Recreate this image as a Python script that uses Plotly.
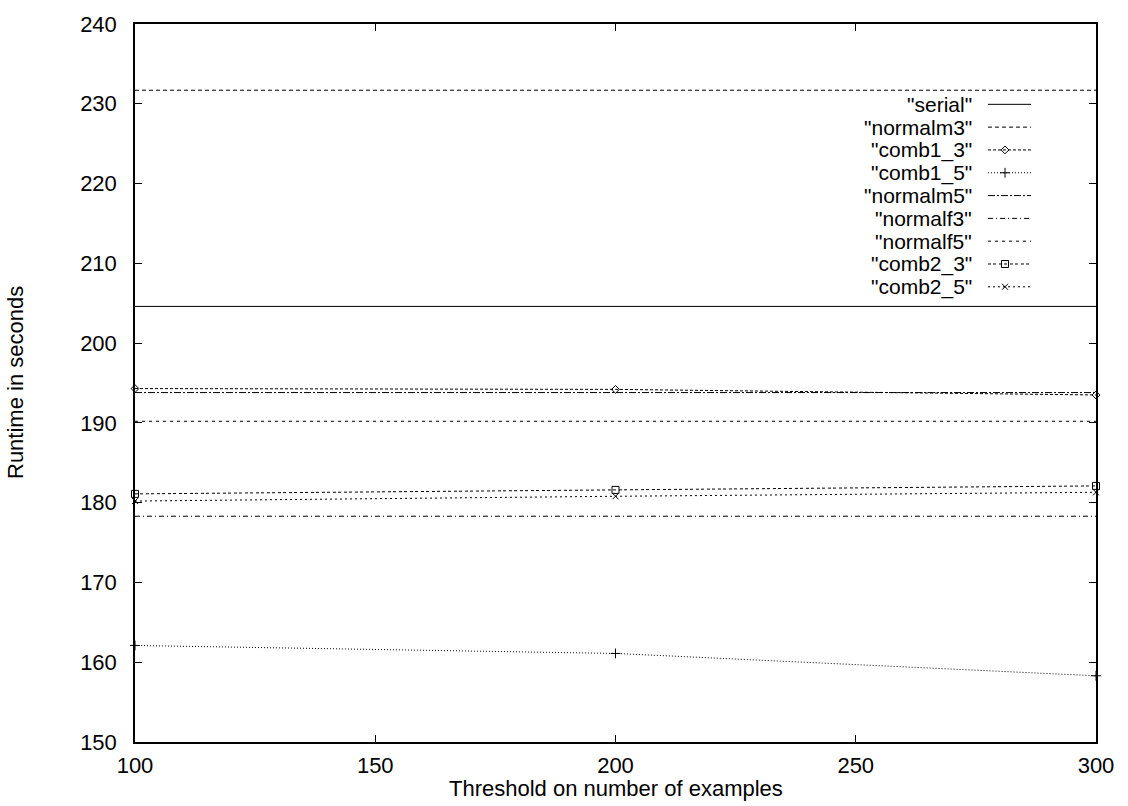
import plotly.graph_objects as go

# Threshold values (x) and runtimes in seconds for each configuration
thresholds = [100, 200, 300]

serial = [204.6, 204.6, 204.6]
normalm3 = [231.7, 231.7, 231.7]
comb1_3 = [194.3, 194.2, 193.5]
comb1_5 = [162.1, 161.1, 158.3]
normalm5 = [193.8, 193.8, 193.8]
normalf3 = [178.3, 178.3, 178.3]
normalf5 = [190.2, 190.2, 190.2]
comb2_3 = [181.1, 181.6, 182.1]
comb2_5 = [180.2, 180.8, 181.3]

series_names = ['"serial"', '"normalm3"', '"comb1_3"', '"comb1_5"', '"normalm5"',
                '"normalf3"', '"normalf5"', '"comb2_3"', '"comb2_5"']
series_values = [serial, normalm3, comb1_3, comb1_5, normalm5,
                 normalf3, normalf5, comb2_3, comb2_5]

# line style per series: (dash, marker symbol or None, marker size)
styles = [
    ("solid", None, 0),
    ("4px,3px", None, 0),
    ("3px,2px", "diamond-open", 6),
    ("1px,2px", "cross-thin-open", 7),
    ("7px,2px,2px,2px", None, 0),
    ("5px,3px,1px,3px", None, 0),
    ("3px,4px", None, 0),
    ("3px,2px,3px,3px", "square-open", 7),
    ("2px,3px", "x-thin-open", 6),
]

FONT = "Liberation Sans, Arial, Helvetica, sans-serif"
FS = 22
KEY_FS = 21

fig = go.Figure()

for name, vals, (dash, sym, msz) in zip(series_names, series_values, styles):
    fig.add_trace(go.Scatter(
        x=thresholds, y=vals, name=name,
        mode="lines+markers" if sym else "lines",
        line=dict(color="black", width=1, dash=dash),
        marker=dict(symbol=sym, size=msz, color="black",
                    line=dict(color="black", width=1)) if sym else None,
        showlegend=False, cliponaxis=False,
    ))

# Key in the upper right: label text followed by a line sample
plot_l, plot_r, plot_t, plot_b = 135, 1096, 18, 742
pw, ph = plot_r - plot_l, plot_b - plot_t

def px_x(px):
    return (px - plot_l) / pw

def px_y(py):
    return (plot_b - py) / ph

key_text_right = 973
key_line_x0, key_line_x1 = 988, 1031
key_marker_x = 1005
key_row0, key_step = 99, 23

annotations = []
shapes = []
for i, (name, (dash, sym, msz)) in enumerate(zip(series_names, styles)):
    yy = px_y(key_row0 + i * key_step)
    annotations.append(dict(
        x=px_x(key_text_right), y=yy, xref="paper", yref="paper",
        text=name, showarrow=False, xanchor="right", yanchor="middle",
        borderpad=0,
        font=dict(family=FONT, size=KEY_FS, color="black"),
    ))
    shapes.append(dict(
        type="line", xref="paper", yref="paper",
        x0=px_x(key_line_x0), x1=px_x(key_line_x1), y0=yy, y1=yy,
        line=dict(color="black", width=1, dash=dash),
    ))
    if sym:
        fig.add_trace(go.Scatter(
            x=[px_x(key_marker_x)], y=[yy],
            xaxis="x2", yaxis="y2", mode="markers",
            marker=dict(symbol=sym, size=msz, color="black",
                        line=dict(color="black", width=1)),
            showlegend=False, hoverinfo="skip",
        ))

annotations.append(dict(
    x=0.5, y=px_y(789), xref="paper", yref="paper",
    text="Threshold on number of examples", showarrow=False,
    xanchor="center", yanchor="middle",
    font=dict(family=FONT, size=FS, color="black"),
))
annotations.append(dict(
    x=px_x(15), y=0.5, xref="paper", yref="paper",
    text="Runtime in seconds", showarrow=False, textangle=-90,
    xanchor="center", yanchor="middle",
    font=dict(family=FONT, size=FS, color="black"),
))

axis_common = dict(
    showline=True, linecolor="black", linewidth=1.5, mirror="ticks",
    ticks="inside", ticklen=7, tickwidth=1, tickcolor="black",
    showgrid=False, zeroline=False,
    tickfont=dict(family=FONT, size=FS, color="black"),
)

fig.update_layout(
    width=1128, height=806,
    margin=dict(l=plot_l, r=1128 - plot_r, t=plot_t, b=806 - plot_b),
    paper_bgcolor="white", plot_bgcolor="white",
    xaxis=dict(range=[100, 300], tickvals=[100, 150, 200, 250, 300],
               ticklabelstandoff=3, **axis_common),
    yaxis=dict(range=[150, 240], tickvals=list(range(150, 241, 10)),
               ticklabelstandoff=12, **axis_common),
    xaxis2=dict(range=[0, 1], overlaying="x", visible=False),
    yaxis2=dict(range=[0, 1], overlaying="y", visible=False),
    annotations=annotations, shapes=shapes, showlegend=False,
)

fig.write_html("out.html")
